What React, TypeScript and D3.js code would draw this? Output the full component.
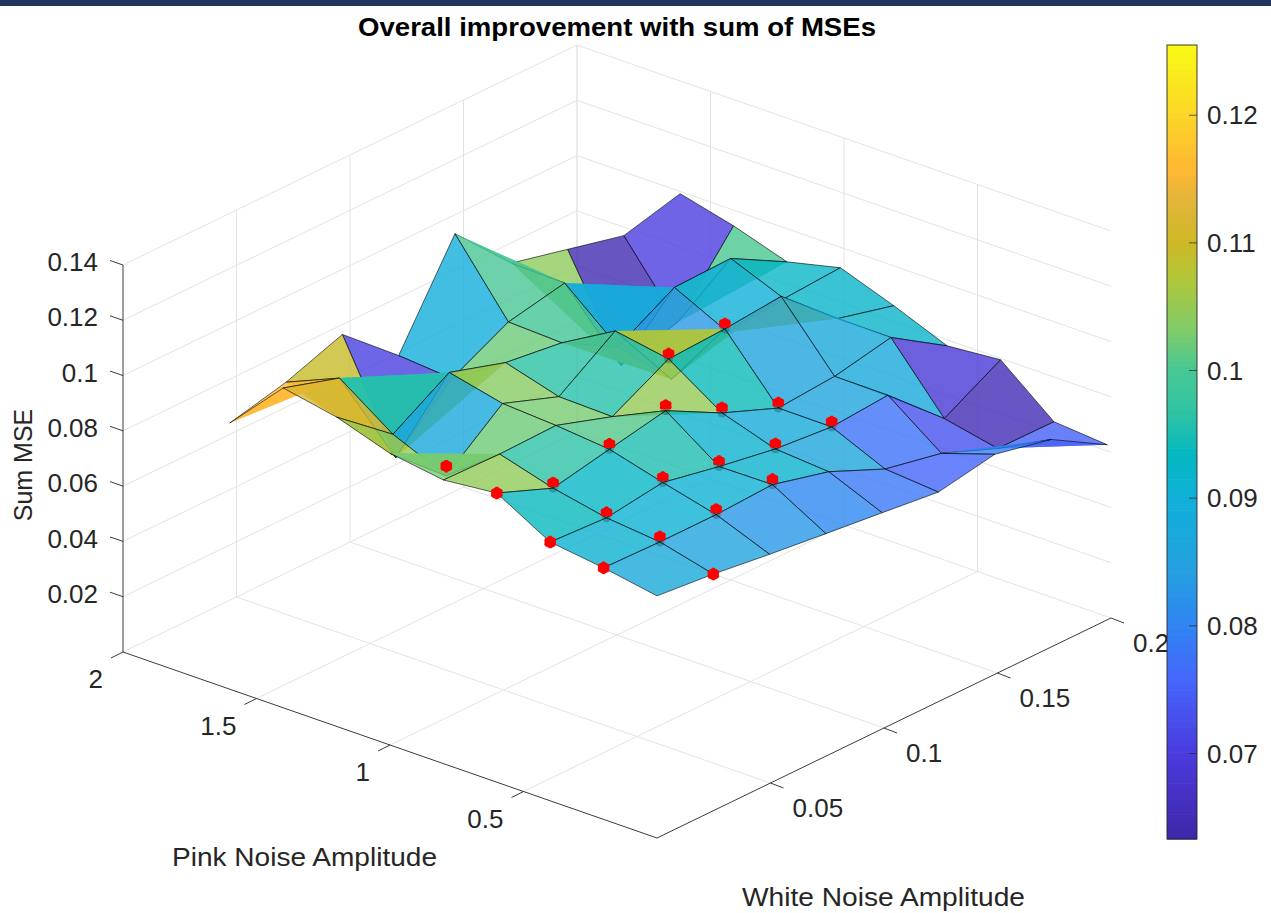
import React from "react";
import * as d3 from "d3";

const whiteAmp = [0, 0.0248, 0.0496, 0.0744, 0.0992, 0.124, 0.1488, 0.1736, 0.1984];
const pinkAmp = [0, 0.2, 0.4, 0.6, 0.8, 1, 1.2, 1.4, 1.6];

// sum MSE, one row per pink amplitude, left to right along white amplitude
const msePink00 = [0.0876, 0.0856, 0.0829, 0.0805, 0.0782, 0.0758, 0.0796, 0.0751, 0.0633];
const msePink02 = [0.091, 0.0905, 0.0905, 0.0915, 0.0863, 0.0774, 0.0732, 0.0651, 0.0649];
const msePink04 = [0.0936, 0.0925, 0.0954, 0.0913, 0.0878, 0.0859, 0.0875, 0.0692, 0.0806];
const msePink06 = [0.1046, 0.0965, 0.1007, 0.1048, 0.0941, 0.086, 0.0876, 0.0918, 0.0789];
const msePink08 = [0.1026, 0.1021, 0.1026, 0.0959, 0.1069, 0.1079, 0.1098, 0.0919, 0.0867];
const msePink10 = [0.1055, 0.0875, 0.1038, 0.0964, 0.1103, 0.083, 0.0901, 0.0924, 0.0937];
const msePink12 = [0.1119, 0.0958, 0.1083, 0.102, 0.0993, 0.0879, 0.0996, 0.1002, 0.0891];
const msePink14 = [0.1157, 0.1094, 0.0708, 0.0895, 0.1001, 0.1043, 0.0647, 0.0703, 0.0954];
const msePink16 = [0.0963, 0.1012, 0.1086, 0.0911, 0.1253, 0.1048, 0.0999, 0.095, 0.1003];
const mseRows = [msePink00, msePink02, msePink04, msePink06, msePink08, msePink10, msePink12, msePink14, msePink16];

// grid cells that carry a red marker: [white index, pink index, lift above the surface]
const edgeMarkers = [[1, 0, 0], [0, 1, 0], [0, 2, 0], [0, 3, 0], [1, 5, 0.0035]];
const innerMarkers = [
  [1, 1], [2, 1], [3, 1], [1, 2], [2, 2], [3, 2], [4, 2], [5, 2],
  [1, 3], [2, 3], [3, 3], [4, 3], [5, 3], [4, 4], [5, 4],
];

const pinkTicks = [0.5, 1, 1.5, 2];
const whiteTicks = [0.05, 0.1, 0.15, 0.2];
const zTicks = [0.02, 0.04, 0.06, 0.08, 0.1, 0.12, 0.14];
const colorTicks = [0.07, 0.08, 0.09, 0.1, 0.11, 0.12];
const colorMin = 0.0633;
const colorMax = 0.1255;

const parulaAt = [0, 0.108, 0.2, 0.27, 0.337, 0.43, 0.484, 0.544, 0.589, 0.636, 0.704, 0.75, 0.806, 0.843, 0.912, 1];
const parulaHex = ["#3f26a8", "#4a3bdd", "#4566fb", "#2f85f2", "#25a0e0", "#10b0d8", "#04b8c0", "#35c4a0", "#45c795", "#7ccc6d", "#b0c63a", "#cdb926", "#e3b43a", "#ffb833", "#fbd627", "#f9fb15"];

const ink = "#262626";
const gridColor = "#e3e3e3";
const font = "'Liberation Sans', Arial, sans-serif";

// orthographic view
const whiteX = d3.scaleLinear().domain([0, 0.2]).range([0, 454]);
const whiteY = d3.scaleLinear().domain([0, 0.2]).range([0, -220]);
const pinkX = d3.scaleLinear().domain([0, 2]).range([0, -534]);
const pinkY = d3.scaleLinear().domain([0, 2]).range([0, -186]);
const zY = d3.scaleLinear().domain([0, 0.14]).range([0, -387]);
const depthOf = (w: number, p: number, z: number) => (w / 0.2) * 487 + (p / 2) * 414 - (z / 0.14) * 175;

const project = (w: number, p: number, z: number): [number, number] => [
  657 + whiteX(w) + pinkX(p),
  838 + whiteY(w) + pinkY(p) + zY(z),
];

const fracToColor = d3.scaleLinear<string>().domain(parulaAt).range(parulaHex);
const mseFrac = d3.scaleLinear().domain([colorMin, colorMax]).range([0, 1]).clamp(true);
const barY = d3.scaleLinear().domain([colorMin, colorMax]).range([839, 45]);

const openLine = d3.line();
const closedLine = d3.line().curve(d3.curveLinearClosed);
const vertex = ([a, b]: number[]) => project(whiteAmp[a], pinkAmp[b], mseRows[b][a]);
const cellDepth = (pts: number[][]) => d3.mean(pts, ([a, b]) => depthOf(whiteAmp[a], pinkAmp[b], mseRows[b][a])) as number;

const isConvex = (pts: [number, number][]) => {
  const turns = pts.map((p, n) => {
    const q = pts[(n + 1) % 4];
    const r = pts[(n + 2) % 4];
    return (q[0] - p[0]) * (r[1] - q[1]) - (q[1] - p[1]) * (r[0] - q[0]);
  });
  return turns.every((t) => t > 0) || turns.every((t) => t < 0);
};

// flat cells stay whole, folded ones are split along the same diagonal with no edge line on it
const faces = d3
  .cross(d3.range(whiteAmp.length - 1), d3.range(pinkAmp.length - 1))
  .flatMap(([i, j]) => {
    const fill = fracToColor(mseFrac(mseRows[j][i]));
    const corners = [[i, j], [i + 1, j], [i + 1, j + 1], [i, j + 1]];
    const pts = corners.map(vertex);
    if (isConvex(pts)) {
      return [{ key: `${i}-${j}`, fill, depth: cellDepth(corners), d: closedLine(pts) as string }];
    }
    return [
      [[i + 1, j], [i, j], [i, j + 1]],
      [[i + 1, j], [i + 1, j + 1], [i, j + 1]],
    ].map((tri, n) => ({
      key: `${i}-${j}-${n}`,
      fill,
      depth: cellDepth(tri),
      d: openLine(tri.map(vertex)) as string,
    }));
  })
  .sort((a, b) => d3.descending(a.depth, b.depth));

const gridSeg = (a: [number, number, number], b: [number, number, number], key: string) => {
  const [x1, y1] = project(a[0], a[1], a[2]);
  const [x2, y2] = project(b[0], b[1], b[2]);
  return <line key={key} x1={x1} y1={y1} x2={x2} y2={y2} stroke={gridColor} strokeWidth={1} />;
};

const asterisk = d3.symbol(d3.symbolAsterisk, 110)() as string;
const barSteps = d3.range(128);

const Blob = () => (
  <g>
    <circle r={5.8} fill="#ff0000" />
    <path d={asterisk} fill="none" stroke="#ff0000" strokeWidth={3} />
  </g>
);

export default function App() {
  const zTop = 0.14;
  const bandH = (839 - 45) / barSteps.length;
  return (
    <svg width={1271} height={913} style={{ position: "absolute", left: 0, top: 0, display: "block", background: "#fff" }} fontFamily={font}>
      <defs>
        <clipPath id="hat">
          <rect x={-9} y={-9} width={18} height={12.5} />
        </clipPath>
      </defs>
      <rect x={0} y={0} width={1271} height={6} fill="#20365f" />

      {/* back walls and floor */}
      {zTicks.map((z) => gridSeg([0, 2, z], [0.2, 2, z], `wa${z}`))}
      {zTicks.map((z) => gridSeg([0.2, 2, z], [0.2, 0, z], `wb${z}`))}
      {whiteTicks.map((w) => gridSeg([w, 2, 0], [w, 2, zTop], `vw${w}`))}
      {pinkTicks.map((p) => gridSeg([0.2, p, 0], [0.2, p, zTop], `vp${p}`))}
      {whiteTicks.map((w) => gridSeg([w, 0, 0], [w, 2, 0], `fw${w}`))}
      {pinkTicks.map((p) => gridSeg([0, p, 0], [0.2, p, 0], `fp${p}`))}

      {/* box edges and ticks */}
      {[
        [[0, 0, 0], [0, 2, 0]],
        [[0, 0, 0], [0.2, 0, 0]],
        [[0, 2, 0], [0, 2, zTop]],
      ].map(([a, b], n) => {
        const [x1, y1] = project(a[0], a[1], a[2]);
        const [x2, y2] = project(b[0], b[1], b[2]);
        return <line key={`box${n}`} x1={x1} y1={y1} x2={x2} y2={y2} stroke={ink} strokeWidth={0.9} />;
      })}
      {zTicks.map((z) => {
        const [x, y] = project(0, 2, z);
        return (
          <g key={`zt${z}`}>
            <line x1={x} y1={y} x2={x - 13} y2={y - 4.5} stroke={ink} strokeWidth={0.9} />
            <text x={98} y={y - 3} dy="0.35em" textAnchor="end" fontSize={26} fill={ink}>{z}</text>
          </g>
        );
      })}
      {pinkTicks.map((p) => {
        const [x, y] = project(0, p, 0);
        return (
          <g key={`pt${p}`}>
            <line x1={x} y1={y} x2={x - 12} y2={y + 6} stroke={ink} strokeWidth={0.9} />
            <text x={x - 20} y={y + 27} dy="0.35em" textAnchor="end" fontSize={26} fill={ink}>{p}</text>
          </g>
        );
      })}
      {whiteTicks.map((w) => {
        const [x, y] = project(w, 0, 0);
        return (
          <g key={`wt${w}`}>
            <line x1={x} y1={y} x2={x + 13} y2={y + 5} stroke={ink} strokeWidth={0.9} />
            <text x={x + 22} y={y + 25} dy="0.35em" textAnchor="start" fontSize={26} fill={ink}>{w}</text>
          </g>
        );
      })}

      {/* surface, painted back to front */}
      {faces.map((t) => (
        <path key={t.key} d={t.d} fill={t.fill} fillOpacity={0.8} stroke="#000" strokeOpacity={0.75} strokeWidth={0.8} strokeLinejoin="round" />
      ))}

      {/* markers */}
      {innerMarkers.map(([i, j]) => {
        const [x, y] = project(whiteAmp[i], pinkAmp[j], mseRows[j][i]);
        return (
          <g key={`im${i}-${j}`}>
            <circle cx={x} cy={y} r={4.5} fill="#000" fillOpacity={0.22} />
            <g transform={`translate(${x},${y - 5})`}>
              <g clipPath="url(#hat)">
                <Blob />
              </g>
            </g>
          </g>
        );
      })}
      {edgeMarkers.map(([i, j, lift]) => {
        const [x, y] = project(whiteAmp[i], pinkAmp[j], mseRows[j][i] + lift);
        return (
          <g key={`em${i}-${j}`} transform={`translate(${x},${y})`}>
            <Blob />
          </g>
        );
      })}

      {/* colorbar */}
      {barSteps.map((s) => (
        <rect
          key={`bar${s}`}
          x={1167}
          y={45 + s * bandH}
          width={30}
          height={bandH + 0.6}
          fill={fracToColor(1 - (s + 0.5) / barSteps.length)}
        />
      ))}
      <rect x={1167} y={45} width={30} height={794} fill="none" stroke={ink} strokeWidth={0.9} />
      {colorTicks.map((t) => (
        <g key={`ct${t}`}>
          <line x1={1189} x2={1197} y1={barY(t)} y2={barY(t)} stroke={ink} strokeOpacity={0.7} strokeWidth={1} />
          <text x={1207} y={barY(t)} dy="0.35em" fontSize={26} fill={ink}>{t}</text>
        </g>
      ))}

      <text x={358} y={27} dy="0.35em" fontSize={26} fontWeight="bold" fill="#000" textLength={518} lengthAdjust="spacingAndGlyphs">Overall improvement with sum of MSEs</text>
      <text x={172} y={857} dy="0.35em" fontSize={25.5} fill={ink} textLength={265} lengthAdjust="spacingAndGlyphs">Pink Noise Amplitude</text>
      <text x={742} y={897} dy="0.35em" fontSize={25.5} fill={ink} textLength={283} lengthAdjust="spacingAndGlyphs">White Noise Amplitude</text>
      <text transform="translate(23,465) rotate(-90)" dy="0.35em" textAnchor="middle" fontSize={25} fill={ink}>Sum MSE</text>
    </svg>
  );
}
